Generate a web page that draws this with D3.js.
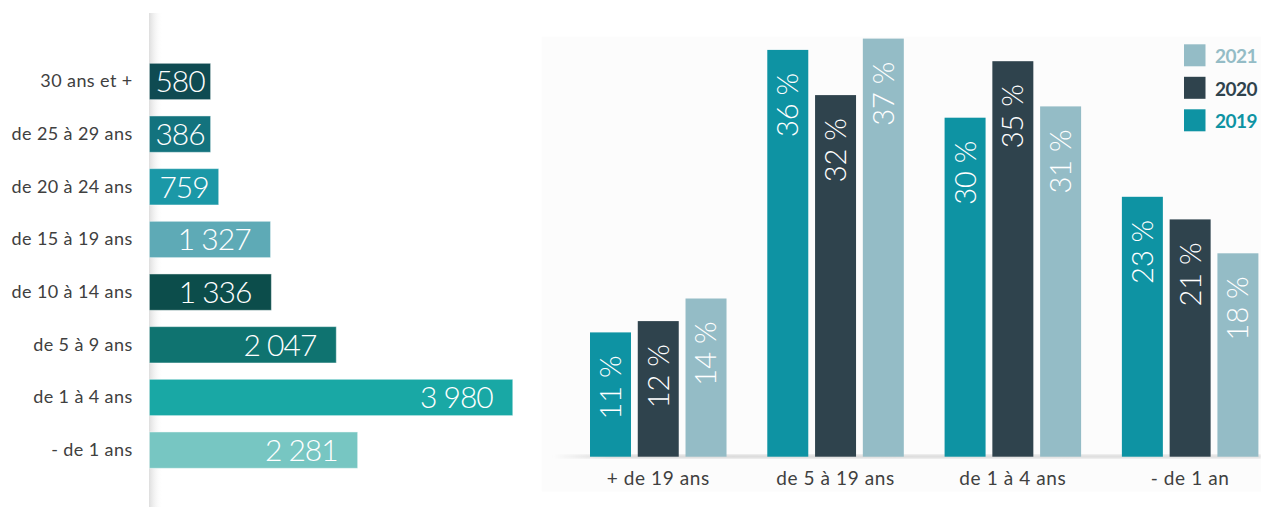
<!DOCTYPE html>
<html><head><meta charset="utf-8">
<script src="https://cdn.jsdelivr.net/npm/d3@7"></script>
<style>
body{margin:0;background:#fff;}
svg{display:block;font-family:Lato,"Open Sans",sans-serif;}
</style>
</head><body>
<svg id="c" width="1261" height="507"></svg>
<script>
// ---- Left chart data ----
const ageCategories = ["30 ans et +","de 25 à 29 ans","de 20 à 24 ans","de 15 à 19 ans","de 10 à 14 ans","de 5 à 9 ans","de 1 à 4 ans","- de 1 ans"];
const ageCounts = [580,386,759,1327,1336,2047,3980,2281];
const ageColors = ["#0f4b52","#13737e","#1b98a7","#5eaab6","#0c4d4b","#0f7370","#19a8a5","#77c6c2"];

// ---- Right chart data ----
const groups = ["+ de 19 ans","de 5 à 19 ans","de 1 à 4 ans","- de 1 an"];
const years = ["2019","2020","2021"];
const share2019 = [11,36,30,23];
const share2020 = [12,32,35,21];
const share2021 = [14,37,31,18];
const yearColors = ["#0e93a3","#2f434d","#94bcc6"];
const legendOrder = ["2021","2020","2019"];

const svg = d3.select("#c");
const defs = svg.append("defs");
const fr = d3.formatLocale({decimal:",",thousands:" ",grouping:[3],currency:["","€"]}).format(",");

// shadows
const g1 = defs.append("linearGradient").attr("id","lshadow").attr("x1",0).attr("x2",1).attr("y1",0).attr("y2",0);
g1.append("stop").attr("offset","0%").attr("stop-color","#a0a0a0").attr("stop-opacity",0.35);
g1.append("stop").attr("offset","100%").attr("stop-color","#ffffff").attr("stop-opacity",0);
const g2 = defs.append("linearGradient").attr("id","bshadow").attr("x1",0).attr("x2",1).attr("y1",0).attr("y2",0);
g2.append("stop").attr("offset","0%").attr("stop-color","#d0d0d0").attr("stop-opacity",0);
g2.append("stop").attr("offset","8%").attr("stop-color","#d0d0d0").attr("stop-opacity",0.8);
g2.append("stop").attr("offset","100%").attr("stop-color","#d8d8d8").attr("stop-opacity",0.8);
defs.append("filter").attr("id","blur").append("feGaussianBlur").attr("stdDeviation",1.2);

// ===== Left horizontal bar chart =====
const x = d3.scaleLinear().domain([0,4000]).range([149.4,514.6]);
const y = d3.scaleBand().domain(ageCategories).range([63.3,468.3]).paddingInner(0.31).paddingOuter(0);

svg.append("rect").attr("x",149).attr("y",13).attr("width",14).attr("height",494).attr("fill","url(#lshadow)");

const left = svg.append("g");
const rows = left.selectAll("g.row").data(ageCategories.map((c,i)=>({c,v:ageCounts[i],col:ageColors[i]})))
  .join("g").attr("class","row");

const valTexts = rows.append("text")
  .attr("fill","#fff").attr("font-size",30).attr("font-weight",300)
  .attr("letter-spacing","-1")
  .attr("text-anchor","end").attr("dy","0.36em")
  .text(d=>fr(d.v));

rows.each(function(d){
  const t = d3.select(this).select("text");
  const tw = t.node().getComputedTextLength();
  const w = Math.max(x(d.v)-x(0), tw+12);
  d3.select(this).insert("rect","text")
    .attr("x",x(0)).attr("y",y(d.c)).attr("width",w).attr("height",y.bandwidth())
    .attr("fill",d.col).attr("stroke","rgba(255,255,255,0.45)").attr("stroke-width",1);
  const pad = Math.min(20, (w-tw)/2);
  t.attr("x",x(0)+w-pad).attr("y",y(d.c)+y.bandwidth()/2);
});

const yAxis = d3.axisLeft(y).tickSize(0).tickPadding(0);
const ya = svg.append("g").attr("transform","translate(132.6,0)").call(yAxis);
ya.select(".domain").remove();
ya.selectAll("text").attr("font-size",18).attr("fill","#404040").attr("font-family","Lato,'Open Sans',sans-serif").attr("letter-spacing","0.4");

// ===== Right grouped bar chart =====
svg.append("rect").attr("x",541.7).attr("y",36.7).attr("width",719.3).attr("height",455).attr("fill","#fcfcfc");
svg.append("rect").attr("x",553).attr("y",454.5).attr("width",708).attr("height",4).attr("fill","url(#bshadow)").attr("filter","url(#blur)");

const x0 = d3.scaleBand().domain(groups).range([590,1258.4]).paddingInner(0.23).paddingOuter(0);
const x1 = d3.scaleBand().domain(years).range([0,x0.bandwidth()]).paddingInner(0.142);
const yv = d3.scaleLinear().domain([0,40]).range([456.7,4.7]);
const series = {"2019":share2019,"2020":share2020,"2021":share2021};
const color = d3.scaleOrdinal().domain(years).range(yearColors);

const right = svg.append("g");
const gg = right.selectAll("g.grp").data(groups).join("g").attr("class","grp")
  .attr("transform",d=>`translate(${x0(d)},0)`);
gg.selectAll("rect").data((g,i)=>years.map(yr=>({yr,v:series[yr][i]})))
  .join("rect")
  .attr("x",d=>x1(d.yr)).attr("width",x1.bandwidth())
  .attr("y",d=>yv(d.v)).attr("height",d=>yv(0)-yv(d.v))
  .attr("fill",d=>color(d.yr));
gg.selectAll("text.val").data((g,i)=>years.map(yr=>({yr,v:series[yr][i]})))
  .join("text").attr("class","val")
  .attr("transform",d=>`translate(${x1(d.yr)+x1.bandwidth()/2},${yv(d.v)+23}) rotate(-90)`)
  .attr("text-anchor","end").attr("dy","0.36em")
  .attr("fill","#fff").attr("font-size",29).attr("font-weight",300)
  .text(d=>d.v+" %");

const xAxis = d3.axisBottom(x0).tickSize(0).tickPadding(0);
const xa = svg.append("g").attr("transform","translate(0,485)").call(xAxis);
xa.select(".domain").remove();
xa.selectAll("text").attr("dy",0).attr("font-size",19).attr("fill","#404040").attr("font-family","Lato,'Open Sans',sans-serif").attr("letter-spacing","0.6");

// legend
const leg = svg.append("g").attr("transform","translate(1184,44.3)");
const li = leg.selectAll("g").data(legendOrder).join("g").attr("transform",(d,i)=>`translate(0,${i*32.5})`);
li.append("rect").attr("width",21.5).attr("height",22).attr("fill",d=>color(d));
li.append("text").attr("x",31).attr("y",19).attr("font-size",19).attr("font-weight",700)
  .attr("fill",d=>color(d)).attr("letter-spacing","-0.5").text(d=>d);
</script>
</body></html>
